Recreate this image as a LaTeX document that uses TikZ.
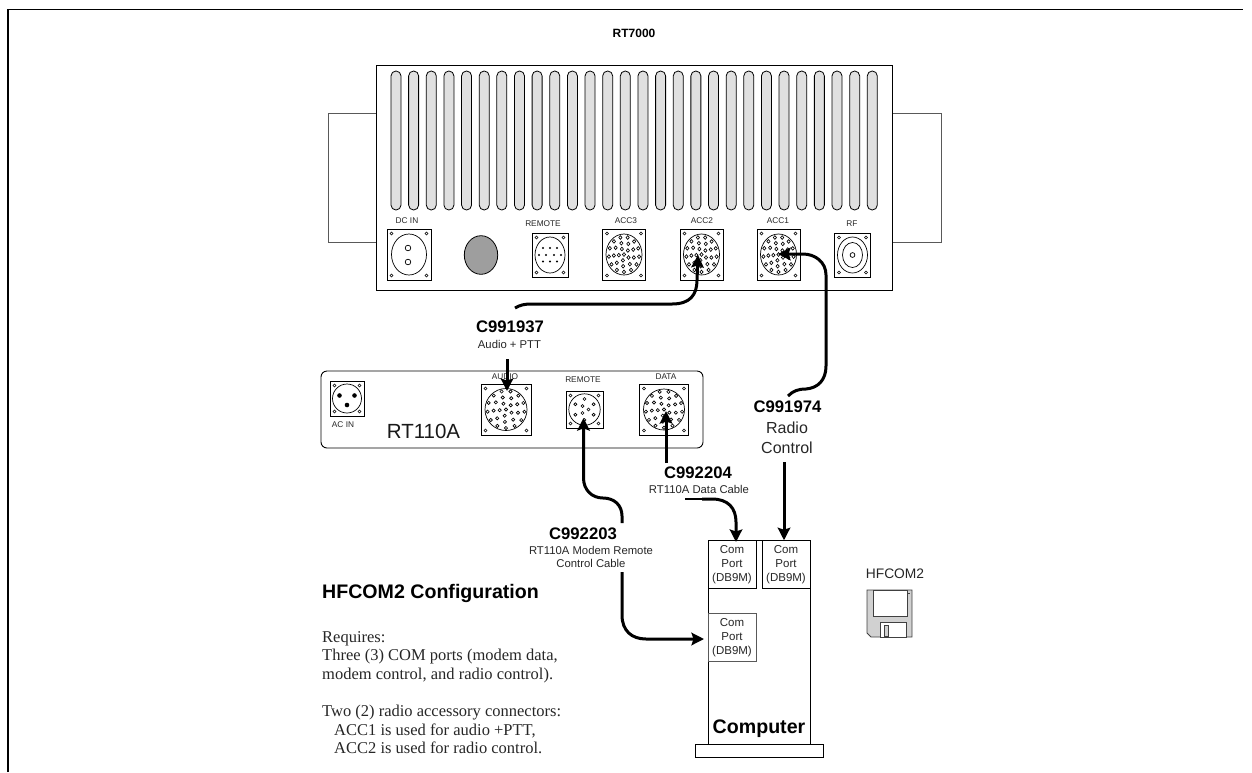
\documentclass[tikz,border=0pt]{standalone}
\usepackage{fontspec}
\setmainfont{Liberation Sans}
\newfontfamily\serifx{Liberation Serif}
\usetikzlibrary{arrows.meta}
\definecolor{slotgray}{RGB}{224,224,224}
\tikzset{
  ln/.style={draw=black,line width=0.9pt},
  glin/.style={draw=black!65,line width=1pt},
  cable/.style={draw=black,line width=3pt,-{Stealth[length=12.5pt,width=12.5pt,inset=2pt]}},
  cableplain/.style={draw=black,line width=1.6pt},
  lab/.style={font=\fontsize{8.3}{10}\selectfont,text=black!85,inner sep=0pt,align=center},
  big/.style={font=\bfseries\fontsize{16.7}{19}\selectfont,inner sep=0pt},
  sub/.style={font=\fontsize{11.3}{13}\selectfont,inner sep=0pt,align=center,text=black!85},
  port/.style={draw=black,line width=1pt,minimum width=48pt,minimum height=47.5pt,inner sep=0pt,align=center,font=\fontsize{11.5}{14}\selectfont,text=black!85}
}
% shell: centre, half w, half h, ellipse rx, ry
\newcommand{\shell}[5]{%
  \begin{scope}[shift={(#1)}]
    \draw[ln,fill=white] (-#2,-#3) rectangle (#2,#3);
    \draw[line width=.7pt] (0,0) ellipse [x radius=#4,y radius=#5];
    \foreach \sx in {-1,1}\foreach \sy in {-1,1}
      \draw[line width=.65pt] ({\sx*(#2-4.5)},{\sy*(#3-4.5)}) circle (1.5);
  \end{scope}}
\newcommand{\pinsmany}[3]{%
  \begin{scope}[shift={(#1)},xscale=#2,yscale=#3]
    \foreach \a in {0,27.7,...,359}\draw[line width=.65pt] (\a+7:15.2) circle ({1.6/#2});
    \foreach \a in {0,40,...,359}\draw[line width=.65pt] (\a+15:10.2) circle ({1.6/#2});
    \foreach \a in {0,72,...,359}\draw[line width=.65pt] (\a+30:5.2) circle ({1.6/#2});
    \draw[line width=.65pt] (0,0) circle ({1.6/#2});
  \end{scope}}
\newcommand{\acc}[1]{\shell{#1}{21.5}{25.5}{18}{20.5}\pinsmany{#1}{1}{1.15}}
\begin{document}
\begin{tikzpicture}[x=1pt,y=-1pt]
\useasboundingbox (0,0) rectangle (1252,772);
% frame
\draw[line width=1.2pt] (8,772) -- (8,9.5) -- (1243,9.5);
\node[inner sep=0pt,font=\bfseries\fontsize{12}{14}\selectfont] (title) at (634,33) {RT7000};
% RT7000
\draw[glin] (376,113) -- (328,113) -- (328,242) -- (376,242);
\draw[glin] (892,113) -- (941,113) -- (941,242) -- (892,242);
\draw[ln,fill=white] (376,65) rectangle (892,290);
\foreach \i in {0,...,27}
  \draw[line width=.8pt,fill=slotgray,rounded corners=4.9pt] ({396+\i*17.64-5},71) rectangle ({396+\i*17.64+5},210);
% connectors
\node[lab] (ldc) at (407,221) {DC IN};
\shell{409,254.5}{22}{25.5}{17.5}{20.5}
\draw[line width=.7pt] (408,248) circle (2.8) (408,262) circle (2.8);
\draw[line width=.8pt,fill=black!38] (481,255) ellipse [x radius=16.7,y radius=19.3];
\node[lab] (lrem) at (543,224) {REMOTE};
\shell{550,255}{18}{22}{15}{18}
\foreach \p in {-7,0,7} \fill (550+\p,248) circle (1.2) (550+\p,261.5) circle (1.2);
\foreach \p in {-11,-4,4,11} \fill (550+\p,255) circle (1.2);
\node[lab] (la3) at (626,221) {ACC3};
\acc{624,254.5}
\node[lab] (la2) at (702,220.5) {ACC2};
\acc{701.5,254.5}
\node[lab] (la1) at (778,220.5) {ACC1};
\acc{778.5,254.5}
\node[lab] (lrf) at (852,224) {RF};
\shell{852.5,255}{18}{22}{15}{18}
\draw[line width=.7pt] (852.5,255) ellipse [x radius=10,y radius=12.5];
\draw[line width=.7pt] (852.5,255) circle (2.4);
% RT110A
\draw[ln,fill=white,rounded corners=6pt] (321,371) rectangle (703,448);
\shell{347,398.5}{17}{17.5}{14.5}{14.5}
\fill (339.5,395.5) circle (2.3) (354.5,395.5) circle (2.3) (347,405) circle (2.3);
\node[lab] (lac) at (343,425) {AC IN};
\node[inner sep=0pt,font=\fontsize{20.5}{23}\selectfont,text=black!90] (lrt) at (423.5,431) {RT110A};
\shell{506,409.5}{25}{25.5}{21}{21}\pinsmany{506,409.5}{1.22}{1.22}
\node[lab] (lau) at (505,377) {AUDIO};
\node[lab] (lre2) at (583,380) {REMOTE};
\shell{584.5,409.5}{18.5}{18.5}{15.7}{15.7}
\foreach \a in {0,60,...,359}\draw[line width=.65pt] (584.5,409.5)+(\a+30:10.5) circle (1.5);
\foreach \a in {0,120,240}\draw[line width=.65pt] (584.5,409.5)+(\a:4) circle (1.5);
\node[lab] (lda) at (666,377) {DATA};
\shell{664,409.5}{24.5}{25.5}{20.5}{20.5}\pinsmany{664,409.5}{1.2}{1.2}
% computer
\draw[ln,fill=white] (708,540.5) rectangle (810,744);
\draw[ln,fill=white] (695,744) rectangle (823,757.5);
\node[port] (p1) at (732,564.5) {Com\\Port\\(DB9M)};
\node[port] (p2) at (786,564.5) {Com\\Port\\(DB9M)};
\node[port,draw=black!65] (p3) at (732,637.5) {Com\\Port\\(DB9M)};
\node[inner sep=0pt,font=\bfseries\fontsize{19.6}{22}\selectfont] (comp) at (759,729) {Computer};
% cable labels
\node[big] (c937) at (510,327) {C991937};
\node[sub] (t937) at (509.5,344) {Audio + PTT};
\node[big] (c974) at (787.5,407) {C991974};
\node[sub,font=\fontsize{16}{20}\selectfont] (t974) at (787,438) {Radio\\Control};
\node[big] (c204) at (698,473) {C992204};
\node[sub] (t204) at (699,489) {RT110A Data Cable};
\node[big] (c203) at (583,534) {C992203};
\node[sub] (t203) at (591,556.5) {RT110A Modem Remote\\Control Cable};
% cables
\coordinate (a1) at (515,308);
\coordinate (a2) at (698,255);
\draw[cable] (a1) .. controls (520,305) and (524,304) .. (532,304) -- (672,304) .. controls (690,304) and (697,295) .. (697,280) -- (a2);
\coordinate (a3) at (507,359);
\coordinate (a4) at (507,391);
\draw[cable] (a3) -- (a4);
\coordinate (b1) at (788,396);
\coordinate (b2) at (778,254);
\draw[cable] (b1) .. controls (793,391) and (798,389) .. (806,389) .. controls (818,388) and (826,380) .. (826,366) -- (826,275) .. controls (826,262) and (815,254) .. (803,254) -- (b2);
\coordinate (c1) at (622,523);
\coordinate (c2) at (583.5,418);
\draw[cable] (c1) -- (622,516) .. controls (622,505) and (614,498) .. (603,498) .. controls (592,498) and (583.5,490) .. (583.5,478) -- (c2);
\coordinate (d1) at (666,463);
\coordinate (d2) at (666,411);
\draw[cable] (d1) -- (d2);
\coordinate (e0) at (685,499);
\coordinate (e1) at (702,499);
\coordinate (e2) at (736,542);
\draw[cableplain] (e0) -- (e1);
\draw[cable] (e1) -- (712,499) .. controls (728,499) and (736,508) .. (736,522) -- (e2);
\coordinate (f1) at (784,462);
\draw[cable] (f1) -- (p2.north -| f1);
\coordinate (g1) at (622,572);
\coordinate (g2) at (704,639);
\draw[cable] (g1) -- (622,615) .. controls (622,631) and (632,639) .. (646,639) -- (g2);
% side text
\node[inner sep=0pt,anchor=west,font=\bfseries\fontsize{19.6}{22}\selectfont] (hf) at (322,593) {HFCOM2 Configuration};
\node[inner sep=0pt,anchor=north west,align=left,font=\serifx\fontsize{16.5}{18.6}\selectfont,text=black!85] (req) at (322,631)
 {Requires:\\Three (3) COM ports (modem data,\\modem control, and radio control).\\[18.6pt]Two (2) radio accessory connectors:\\\hspace*{12pt}ACC1 is used for audio +PTT,\\\hspace*{12pt}ACC2 is used for radio control.};
% floppy
\node[inner sep=0pt,font=\fontsize{13.8}{16}\selectfont,text=black!85] (hfc) at (895,574) {HFCOM2};
\draw[line width=.8pt,draw=black!75,fill=black!18] (867,590) -- (912,590) -- (912,637) -- (871,637) -- (867,633) -- cycle;
\draw[line width=.7pt,draw=black!75,fill=white] (873,590) rectangle (907,616);
\draw[line width=.7pt,draw=black!75,fill=white] (880,622) rectangle (906,637);
\draw[line width=.7pt,draw=black!75,fill=black!18] (884,625) rectangle (888.5,636);
\draw[line width=.8pt,draw=black!75] (908,593.5) -- (910,593.5);
\end{tikzpicture}
\end{document}
